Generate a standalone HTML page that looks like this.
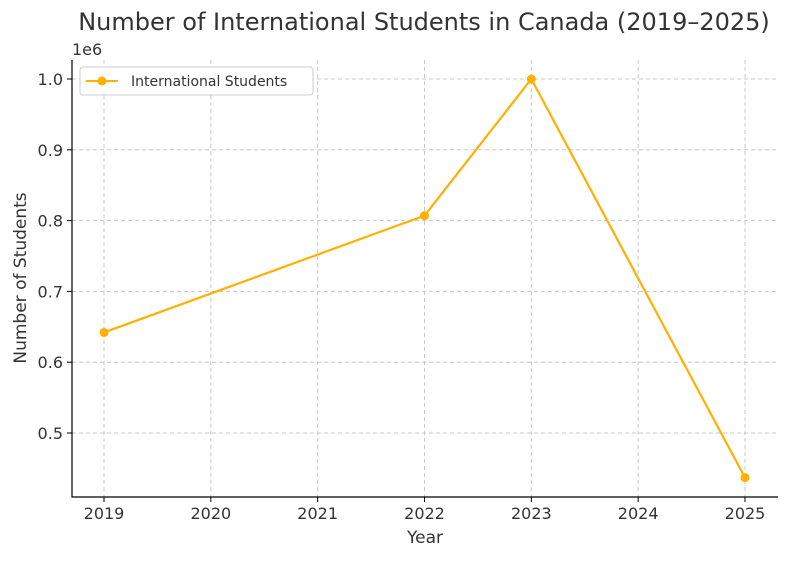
<!DOCTYPE html>
<html><head><meta charset="utf-8"><style>
body{margin:0;background:#fff;}
svg text{font-family:"DejaVu Sans","Liberation Sans",sans-serif;fill:#333;}
</style></head><body>
<svg id="chart" width="800" height="558" xmlns="http://www.w3.org/2000/svg">
<text x="424" y="30" font-size="24" text-anchor="middle">Number of International Students in Canada (2019–2025)</text>
<g id="grid"></g><g id="axes"></g><g id="series"></g>
<text x="72" y="55" font-size="16">1e6</text>
<text x="425" y="543" font-size="17" text-anchor="middle">Year</text>
<text transform="translate(26,278) rotate(-90)" font-size="17" text-anchor="middle">Number of Students</text>
<g>
<rect x="80" y="67" width="233" height="28" fill="#fff" stroke="#ccc" rx="3"/>
<line x1="86" y1="81" x2="118" y2="81" stroke="#FFB000" stroke-width="2"/>
<circle cx="102" cy="81" r="4.5" fill="#FFB000"/>
<text x="131" y="86" font-size="14">International Students</text>
</g>
</svg>
<script>
const years=[2019,2022,2023,2025];
const students=[0.642,0.807,1.0,0.437];
const xTicks=[2019,2020,2021,2022,2023,2024,2025];
const yTicks=[0.5,0.6,0.7,0.8,0.9,1.0];
const ns="http://www.w3.org/2000/svg";
const L=72,R=778,T=60,B=497;
const x=v=>104+(v-2019)*(745-104)/6;
const y=v=>433-(v-0.5)*(433-79)/0.5;
function mk(t,a,p){const e=document.createElementNS(ns,t);for(const k in a)e.setAttribute(k,a[k]);p.appendChild(e);return e;}
const g=document.getElementById('grid'),ax=document.getElementById('axes'),s=document.getElementById('series');
xTicks.forEach(t=>{
 const l=mk('line',{x1:x(t),x2:x(t),y1:T,y2:B,stroke:'#c8c8c8','stroke-dasharray':'4,3'},g);
 
 
 mk('line',{x1:x(t),x2:x(t),y1:B,y2:B+5,stroke:'#000'},ax);
 const tx=mk('text',{x:x(t),y:B+22,'font-size':16,'text-anchor':'middle'},ax);tx.textContent=t;
 
 
});
yTicks.forEach(t=>{
 const l=mk('line',{x1:L,x2:R,y1:y(t),y2:y(t),stroke:'#c8c8c8','stroke-dasharray':'4,3'},g);
 
 
 mk('line',{x1:L-5,x2:L,y1:y(t),y2:y(t),stroke:'#000'},ax);
 const tx=mk('text',{x:L-9,y:y(t)+6,'font-size':16,'text-anchor':'end'},ax);tx.textContent=t.toFixed(1);
 
 
});
mk('path',{d:`M${L} ${T}V${B}H${R}`,fill:'none',stroke:'#000','stroke-width':1.2},ax);
const line=mk('polyline',{points:years.map((v,i)=>x(v)+','+y(students[i])).join(' '),fill:'none',stroke:'#FFB000','stroke-width':2.2},s);


years.forEach((v,i)=>{
 const c=mk('circle',{cx:x(v),cy:y(students[i]),r:4.5,fill:'#FFB000'},s);
 
 
});
</script>
</body></html>
